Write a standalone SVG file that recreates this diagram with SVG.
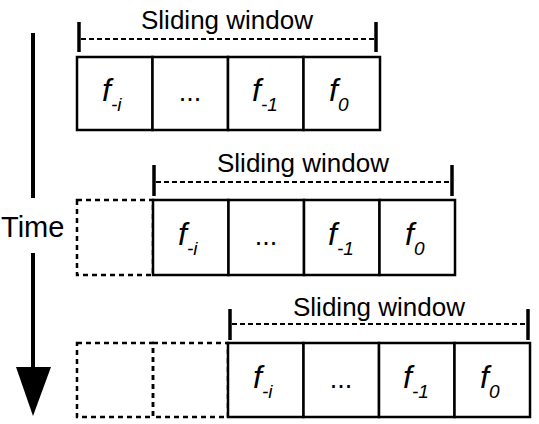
<svg xmlns="http://www.w3.org/2000/svg" width="539" height="424" viewBox="0 0 539 424">
<style>
.cell{fill:#fff;stroke:#000;stroke-width:2.5}
.ghost{fill:none;stroke:#000;stroke-width:2.5;stroke-dasharray:5,4}
.dash{fill:none;stroke:#000;stroke-width:2;stroke-dasharray:5,3}
.tick{stroke:#000;stroke-width:3.5}
.lbl{font-family:"Liberation Sans",Arial,sans-serif;font-size:26px;fill:#000;text-anchor:middle}
.f{font-family:"Liberation Sans",Arial,sans-serif;font-size:32px;font-style:italic;fill:#000}
.sub{font-size:19px}
.dots{font-family:"Liberation Sans",Arial,sans-serif;font-size:27px;fill:#000;text-anchor:middle}
.time{font-family:"Liberation Sans",Arial,sans-serif;font-size:29px;fill:#000}
</style>
<rect width="539" height="424" fill="#fff"/>
<g id="connectors">
  <line x1="33" y1="33" x2="33" y2="198" stroke="#000" stroke-width="4"/>
  <line x1="33" y1="253" x2="33" y2="370" stroke="#000" stroke-width="4"/>
  <polygon points="16,367 51,367 33,416" fill="#000"/>
</g>
<g id="time-label"><text class="time" x="1" y="237">Time</text></g>

<g id="window1">
  <text class="lbl" x="227" y="29">Sliding window</text>
  <line class="tick" x1="79" y1="22" x2="79" y2="52"/>
  <line class="tick" x1="376" y1="22" x2="376" y2="52"/>
  <line class="dash" x1="81" y1="39" x2="374" y2="39"/>
</g>
<g id="row1">
  <g id="r1c1"><rect class="cell" x="77" y="57" width="75.5" height="73"/><text class="f" x="102" y="101">f<tspan class="sub" dy="10">-i</tspan></text></g>
  <g id="r1c2"><rect class="cell" x="152.5" y="57" width="75.5" height="73"/><text class="dots" x="190" y="101">...</text></g>
  <g id="r1c3"><rect class="cell" x="228" y="57" width="75.5" height="73"/><text class="f" x="252" y="101">f<tspan class="sub" dy="10">-1</tspan></text></g>
  <g id="r1c4"><rect class="cell" x="303.5" y="57" width="76.5" height="73"/><text class="f" x="329" y="101">f<tspan class="sub" dy="10">0</tspan></text></g>
</g>

<g id="window2">
  <text class="lbl" x="303" y="172">Sliding window</text>
  <line class="tick" x1="154" y1="165" x2="154" y2="196"/>
  <line class="tick" x1="452" y1="165" x2="452" y2="196"/>
  <line class="dash" x1="156" y1="182" x2="450" y2="182"/>
</g>
<g id="row2">
  <g id="r2g1"><rect class="ghost" x="77" y="200" width="76" height="75"/></g>
  <g id="r2c1"><rect class="cell" x="153" y="200" width="75.5" height="75"/><text class="f" x="178" y="245">f<tspan class="sub" dy="10">-i</tspan></text></g>
  <g id="r2c2"><rect class="cell" x="228.5" y="200" width="75.5" height="75"/><text class="dots" x="266" y="245">...</text></g>
  <g id="r2c3"><rect class="cell" x="304" y="200" width="75.5" height="75"/><text class="f" x="328" y="245">f<tspan class="sub" dy="10">-1</tspan></text></g>
  <g id="r2c4"><rect class="cell" x="379.5" y="200" width="75.5" height="75"/><text class="f" x="405" y="245">f<tspan class="sub" dy="10">0</tspan></text></g>
</g>

<g id="window3">
  <text class="lbl" x="379" y="316">Sliding window</text>
  <line class="tick" x1="230" y1="309" x2="230" y2="340"/>
  <line class="tick" x1="528" y1="309" x2="528" y2="340"/>
  <line class="dash" x1="232" y1="324" x2="526" y2="324"/>
</g>
<g id="row3">
  <g id="r3g1"><rect class="ghost" x="77" y="343" width="76" height="74"/></g>
  <g id="r3g2"><rect class="ghost" x="153" y="343" width="75" height="74"/></g>
  <g id="r3c1"><rect class="cell" x="228" y="343" width="75.5" height="74"/><text class="f" x="253" y="388">f<tspan class="sub" dy="10">-i</tspan></text></g>
  <g id="r3c2"><rect class="cell" x="303.5" y="343" width="75.5" height="74"/><text class="dots" x="341" y="388">...</text></g>
  <g id="r3c3"><rect class="cell" x="379" y="343" width="75.5" height="74"/><text class="f" x="403" y="388">f<tspan class="sub" dy="10">-1</tspan></text></g>
  <g id="r3c4"><rect class="cell" x="454.5" y="343" width="75.5" height="74"/><text class="f" x="480" y="388">f<tspan class="sub" dy="10">0</tspan></text></g>
</g>
</svg>
